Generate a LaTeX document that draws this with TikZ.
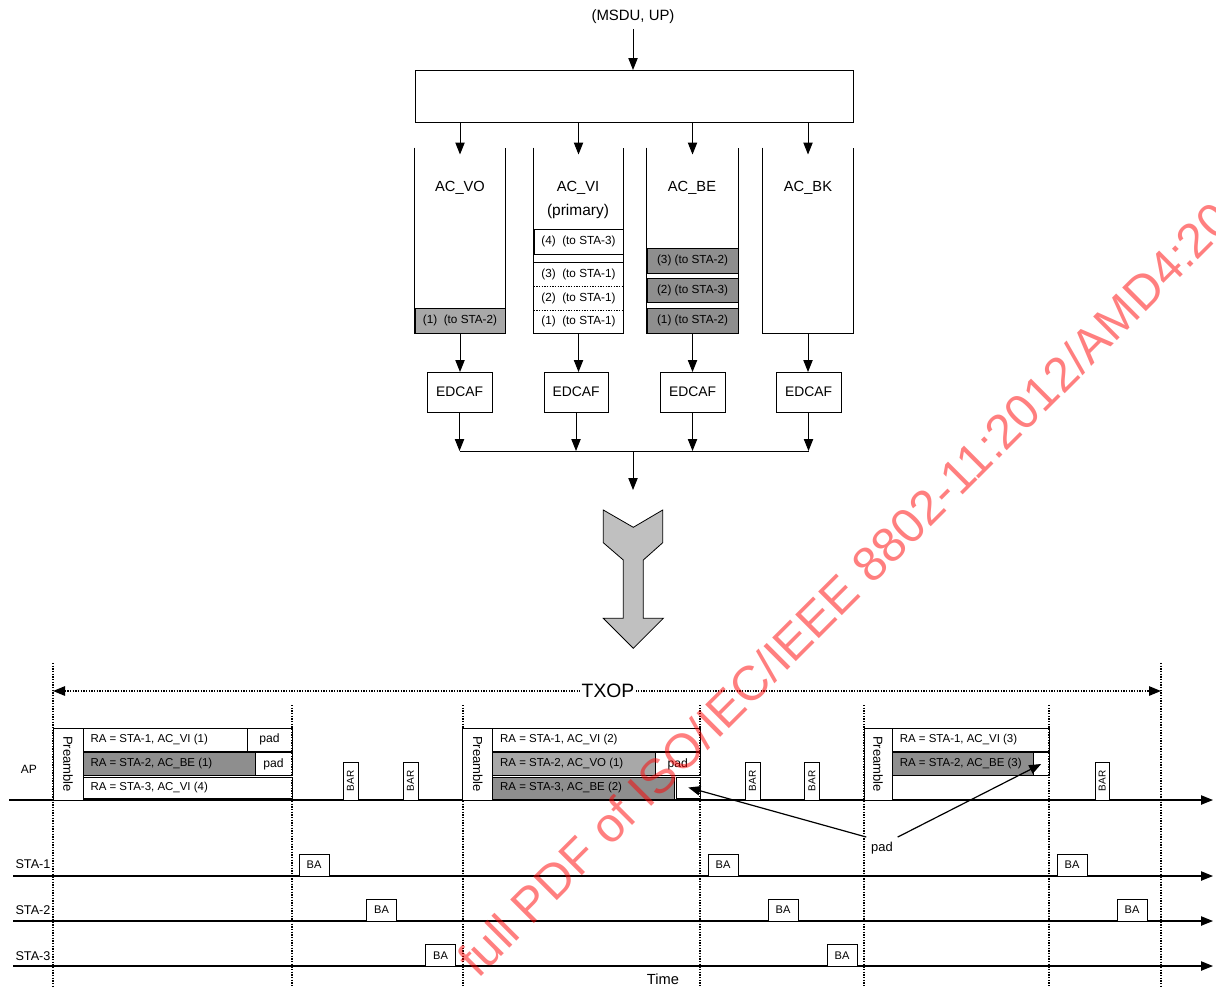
\documentclass[tikz,border=0pt]{standalone}
\usepackage{fontspec}
\setmainfont{Liberation Sans}
\usetikzlibrary{arrows.meta,fit,calc}
\definecolor{voGray}{HTML}{A8A8A8}
\definecolor{beGray}{HTML}{8E8E8E}
\definecolor{arrGray}{HTML}{C0C0C0}
\newcommand\fsz[1]{\fontsize{#1}{#1}\selectfont}
\newcommand\mybox[6]{\node[bx,fit={(#2,#3) (#4,#5)},#6] (#1) {};}
\newcommand\myboxt[8]{\node[bx,fit={(#2,#3) (#4,#5)},#6] (#1) {};
  \node[inner sep=0pt,#7] (#1t) at (#1.center) {#8};}
\begin{document}
\begin{tikzpicture}[x=0.75pt,y=-0.75pt,line width=0.75pt,
  arr/.style={-{Triangle[length=9pt,width=7pt]}},
  bx/.style={draw,inner sep=0pt,outer sep=0pt},
  vdot/.style={line width=1.3pt,dash pattern=on 1pt off 1pt},
  lbl/.style={font=\fsz{11}},
  qtxt/.style={font=\fsz{8.8}},
  ratxt/.style={anchor=west,font=\fsz{8.6},inner sep=0pt},
  padtxt/.style={font=\fsz{9.1}},
  batxt/.style={font=\fsz{8.3}},
  bartxt/.style={rotate=90,font=\fsz{7.5}},
  pretxt/.style={rotate=-90,font=\fsz{9.8}}]
\useasboundingbox (0,0) rectangle (1216,986);

% ---------------- upper part ----------------
\node[font=\fsz{11.2}] (msdu) at (633,17) {(MSDU, UP)};
\mybox{mux}{415}{70}{853}{122}{}
\draw[arr] (msdu.south) -- (msdu.south |- mux.north);

\node[inner sep=0pt,fit={(415,148) (505,333)}] (q1) {};
\node[inner sep=0pt,fit={(534,148) (623,333)}] (q2) {};
\node[inner sep=0pt,fit={(647,148) (738,333)}] (q3) {};
\node[inner sep=0pt,fit={(763,148) (853,333)}] (q4) {};
\foreach \q in {q1,q2,q3,q4}{
  \draw (\q.north west) -- (\q.south west) -- (\q.south east) -- (\q.north east);
  \draw[arr] (mux.south -| \q) -- ($(\q.north)+(0,7)$);
}
\node[lbl] (lvo) at (460,188) {AC\_VO};
\node[lbl] (lvi) at (578,188) {AC\_VI};
\node[font=\fsz{11.6}] (lpri) at (578,211) {(primary)};
\node[lbl] (lbe) at (692,188) {AC\_BE};
\node[lbl] (lbk) at (808,188) {AC\_BK};

% AC_VO queue
\myboxt{vo1}{415}{308}{505}{333}{fill=voGray}{qtxt}{(1)~~(to STA-2)}
% AC_VI queue
\myboxt{vi4}{534}{229}{623}{254}{}{qtxt}{(4)~~(to STA-3)}
\node[inner sep=0pt,fit={(534,263) (623,286)}] (vi3) {};
\node[inner sep=0pt,fit={(534,286) (623,310)}] (vi2) {};
\node[inner sep=0pt,fit={(534,310) (623,333)}] (vi1) {};
\node[inner sep=0pt,qtxt] (vi3t) at (vi3.center) {(3)~~(to STA-1)};
\node[inner sep=0pt,qtxt] (vi2t) at (vi2.center) {(2)~~(to STA-1)};
\node[inner sep=0pt,qtxt] (vi1t) at (vi1.center) {(1)~~(to STA-1)};
\draw (vi3.north west) rectangle (vi1.south east);
\draw[vdot,line width=1.1pt] (vi3.south west) -- (vi3.south east);
\draw[vdot,line width=1.1pt] (vi2.south west) -- (vi2.south east);
% AC_BE queue
\myboxt{be3}{647}{248}{738}{273}{fill=beGray}{qtxt}{(3) (to STA-2)}
\myboxt{be2}{647}{278}{738}{302}{fill=beGray}{qtxt}{(2) (to STA-3)}
\myboxt{be1}{647}{308}{738}{333}{fill=beGray}{qtxt}{(1) (to STA-2)}

% EDCAF
\myboxt{e1}{427}{372}{492}{412}{}{font=\fsz{10.4}}{EDCAF}
\myboxt{e2}{544}{372}{608}{412}{}{font=\fsz{10.4}}{EDCAF}
\myboxt{e3}{660}{372}{725}{412}{}{font=\fsz{10.4}}{EDCAF}
\myboxt{e4}{776}{372}{841}{412}{}{font=\fsz{10.4}}{EDCAF}
\draw[arr] (q1.south) -- (q1.south |- e1.north);
\draw[arr] (q2.south) -- (q2.south |- e2.north);
\draw[arr] (q3.south) -- (q3.south |- e3.north);
\draw[arr] (q4.south) -- (q4.south |- e4.north);
\coordinate (join) at (633,451);
\foreach \e in {e1,e2,e3,e4}{\draw[arr] (\e.south) -- (\e.south |- join);}
\draw (e1.south |- join) -- (e4.south |- join);
\coordinate (jend) at (633,490);
\draw[arr] (join) -- (jend);

% big arrow
\draw[fill=arrGray,line width=0.6pt,line join=miter]
  (603.3,510) -- (633.3,527.3) -- (662.7,510) -- (662.7,542.7) -- (643.3,560)
  -- (643.3,618.3) -- (663.3,618.3) -- (633.3,648.3) -- (603.3,618.3)
  -- (623.3,618.3) -- (623.3,560) -- (603.3,542.7) -- cycle;

% ---------------- timeline ----------------
\coordinate (bot) at (0,986);
\coordinate (t0) at (53,663);
\coordinate (t6) at (1161,663);
\coordinate (t1) at (292,705);
\coordinate (t2) at (463,705);
\coordinate (t3) at (700,705);
\coordinate (t4) at (864,705);
\coordinate (t5) at (1049,705);

\coordinate (apA) at (9,800);   \coordinate (apB) at (1213,800);
\coordinate (s1A) at (13,876);  \coordinate (s1B) at (1213,876);
\coordinate (s2A) at (13,921);  \coordinate (s2B) at (1213,921);
\coordinate (s3A) at (13,966);  \coordinate (s3B) at (1213,966);
\draw[arr,line width=0.9pt] (apA) -- (apB);
\draw[arr,line width=0.9pt] (s1A) -- (s1B);
\draw[arr,line width=0.9pt] (s2A) -- (s2B);
\draw[arr,line width=0.9pt] (s3A) -- (s3B);

\foreach \t in {t0,t1,t2,t3,t4,t5,t6}{\draw[vdot] (\t) -- (\t |- bot);}

\coordinate (txl) at (53,691);
\coordinate (txr) at (1161,691);
\draw[vdot,{Triangle[length=9pt,width=7pt]}-{Triangle[length=9pt,width=7pt]}] (txl) -- (txr);
\node[fill=white,inner sep=1pt,font=\fsz{14.5}] (txop) at (608,691) {TXOP};

\node[font=\fsz{9}] (lap) at (29,769) {AP};
\node[anchor=east,inner sep=0pt,font=\fsz{9.5}] (ls1) at (51,864) {STA-1};
\node[anchor=east,inner sep=0pt,font=\fsz{9.5}] (ls2) at (51,910) {STA-2};
\node[anchor=east,inner sep=0pt,font=\fsz{9.5}] (ls3) at (51,956) {STA-3};
\node[font=\fsz{11}] (ltime) at (663,979) {Time};

% frame 1
\myboxt{p1}{53}{728}{83}{800}{fill=white}{pretxt}{Preamble}
\mybox{f1a}{83}{728}{247}{751}{}
\node[ratxt] (f1at) at ($(f1a.west)+(7,0)$) {RA = STA-1, AC\_VI (1)};
\myboxt{f1ap}{247}{728}{292}{751}{}{padtxt}{pad}
\mybox{f1b}{83}{752.5}{255}{775.5}{fill=beGray}
\node[ratxt] (f1bt) at ($(f1b.west)+(7,0)$) {RA = STA-2, AC\_BE (1)};
\myboxt{f1bp}{255}{752.5}{292}{775.5}{}{padtxt}{pad}
\mybox{f1c}{83}{777}{292}{798}{}
\node[ratxt] (f1ct) at ($(f1c.west)+(7,0)$) {RA = STA-3, AC\_VI (4)};
\myboxt{bar1}{343}{762}{358}{800}{fill=white}{bartxt}{BAR}
\myboxt{bar2}{403}{762}{418}{800}{fill=white}{bartxt}{BAR}

% frame 2
\myboxt{p2}{462.7}{728}{492.7}{800}{fill=white}{pretxt}{Preamble}
\mybox{f2a}{492.7}{728}{700}{751}{}
\node[ratxt] (f2at) at ($(f2a.west)+(7,0)$) {RA = STA-1, AC\_VI (2)};
\mybox{f2b}{492.7}{752.5}{655.7}{775.5}{fill=voGray}
\node[ratxt] (f2bt) at ($(f2b.west)+(7,0)$) {RA = STA-2, AC\_VO (1)};
\myboxt{f2bp}{655.7}{752.5}{700}{775.5}{}{padtxt}{pad}
\mybox{f2c}{492.7}{777}{674.3}{799}{fill=beGray}
\node[ratxt] (f2ct) at ($(f2c.west)+(7,0)$) {RA = STA-3, AC\_BE (2)};
\mybox{f2cp}{676.7}{777}{700}{798}{}
\myboxt{bar3}{745}{762}{760}{800}{fill=white}{bartxt}{BAR}
\myboxt{bar4}{804.3}{762}{819.3}{800}{fill=white}{bartxt}{BAR}

% frame 3
\myboxt{p3}{864}{728}{892.3}{800}{fill=white}{pretxt}{Preamble}
\mybox{f3a}{892.3}{728}{1049}{751}{}
\node[ratxt] (f3at) at ($(f3a.west)+(7,0)$) {RA = STA-1, AC\_VI (3)};
\mybox{f3b}{892.3}{752.5}{1033.3}{775.5}{fill=beGray}
\node[ratxt] (f3bt) at ($(f3b.west)+(7,0)$) {RA = STA-2, AC\_BE (3)};
\mybox{f3bp}{1033.3}{752.5}{1049}{775.5}{}
\myboxt{bar5}{1095}{762}{1109.3}{800}{fill=white}{bartxt}{BAR}

% BA boxes
\myboxt{ba11}{299}{854}{329}{876}{fill=white}{batxt}{BA}
\myboxt{ba12}{708}{854}{738}{876}{fill=white}{batxt}{BA}
\myboxt{ba13}{1057}{854}{1087}{876}{fill=white}{batxt}{BA}
\myboxt{ba21}{366.5}{899}{396.5}{921}{fill=white}{batxt}{BA}
\myboxt{ba22}{768}{899}{798}{921}{fill=white}{batxt}{BA}
\myboxt{ba23}{1117}{899}{1147}{921}{fill=white}{batxt}{BA}
\myboxt{ba31}{425.5}{944.5}{455.5}{966}{fill=white}{batxt}{BA}
\myboxt{ba32}{827}{944.5}{857}{966}{fill=white}{batxt}{BA}

% pad annotation
\node[font=\fsz{9.7}] (padl) at (882,848) {pad};
\draw[arr,line width=0.9pt] (padl.north west) -- (f2cp.center);
\draw[arr,line width=0.9pt] (padl.north east) -- (f3bp.center);

% watermark
\node[rotate=45,anchor=base west,inner sep=0pt,text=red,text opacity=0.5,
      font=\fsz{36.5}] (wm) at (478,980) {full PDF of ISO/IEC/IEEE 8802-11:2012/AMD4:20};
\end{tikzpicture}
\end{document}
